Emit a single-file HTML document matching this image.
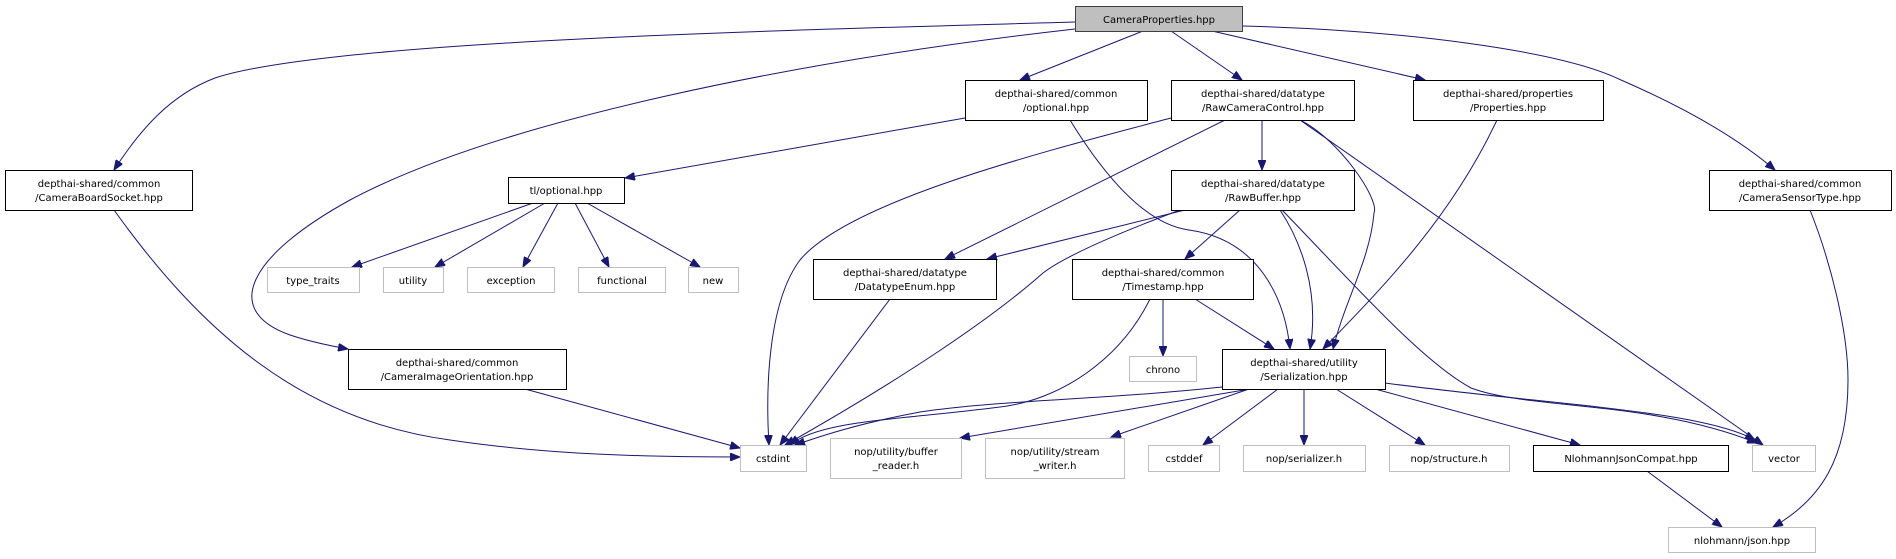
<!DOCTYPE html>
<html><head><meta charset="utf-8"><style>
html,body{margin:0;padding:0;background:#fff;}
svg{display:block;}
text{font-family:"DejaVu Sans","Liberation Sans",sans-serif;font-size:10px;fill:#000;}
.n{fill:#fff;stroke:#000;stroke-width:1;}
.g{fill:#fff;stroke:#bfbfbf;stroke-width:1;}
.e{fill:none;stroke:#191970;stroke-width:1;}
</style></head><body>
<svg width="1896" height="559" viewBox="0 0 1896 559" xmlns="http://www.w3.org/2000/svg">
<defs><marker id="a" markerWidth="11" markerHeight="8" refX="10" refY="4" orient="auto" markerUnits="userSpaceOnUse"><path d="M0,0 L10,4 L0,8 z" fill="#191970" stroke="#191970"/></marker></defs>
<g class="e" marker-end="url(#a)">
<path d="M1075,22 C800,30 330,40 215,78 C170,95 140,130 114,170"/>
<path d="M1075,29 C800,60 500,120 350,200 C250,255 220,310 290,335 C305,340 320,344 348,349"/>
<path d="M1143,31 L1020,80"/>
<path d="M1171,31 L1242,80"/>
<path d="M1212,31 L1425,80"/>
<path d="M1242,26 C1400,30 1560,50 1621,80 C1690,110 1740,140 1775,170"/>
<path d="M965,118 L625,178"/>
<path d="M1070,120 C1110,185 1150,225 1189,230 C1260,240 1285,300 1290,349"/>
<path d="M1171,118 C1050,150 850,200 800,260 C770,300 765,380 769,445"/>
<path d="M1225,120 L945,259"/>
<path d="M1262,120 L1262,170"/>
<path d="M1300,120 C1340,140 1380,200 1374,213 C1370,260 1345,300 1333,349"/>
<path d="M1300,120 L1763,445"/>
<path d="M1497,120 C1450,220 1380,290 1323,349"/>
<path d="M1185,210 L987,259"/>
<path d="M1180,210 C1100,240 1060,260 1043,273 C990,320 900,380 785,445"/>
<path d="M1240,210 L1185,259"/>
<path d="M1280,210 C1300,240 1320,290 1310,349"/>
<path d="M1282,210 C1350,280 1420,360 1471,388 C1530,410 1650,400 1757,443"/>
<path d="M1163,299 L1163,356"/>
<path d="M1195,299 L1274,349"/>
<path d="M1150,299 C1120,360 1060,400 1000,407 C900,420 820,420 790,445"/>
<path d="M890,299 L780,445"/>
<path d="M114,210 C200,330 300,420 450,440 C550,455 650,457 740,457"/>
<path d="M525,389 L740,448"/>
<path d="M533,203 L352,267"/>
<path d="M545,203 L435,267"/>
<path d="M558,203 L523,267"/>
<path d="M575,203 L609,267"/>
<path d="M587,203 L700,267"/>
<path d="M1222,387 C1100,400 1000,400 920,412 C850,425 810,440 795,445"/>
<path d="M1250,389 L960,438"/>
<path d="M1249,389 L1111,437"/>
<path d="M1278,389 L1203,445"/>
<path d="M1304,389 L1304,445"/>
<path d="M1336,389 L1425,445"/>
<path d="M1375,389 L1580,445"/>
<path d="M1385,383 C1550,405 1700,410 1755,440"/>
<path d="M1647,471 L1722,527"/>
<path d="M1810,210 C1830,260 1848,330 1848,380 C1848,460 1820,500 1773,527"/>
</g>
<rect x="1075.5" y="6.5" width="167" height="25" fill="#bfbfbf" stroke="#404040"/>
<text x="1159" y="23" text-anchor="middle">CameraProperties.hpp</text>
<g text-anchor="middle">
<rect class="n" x="5.5" y="170.5" width="187" height="40"/><text x="99" y="187">depthai-shared/common</text><text x="99" y="201">/CameraBoardSocket.hpp</text>
<rect class="n" x="965.5" y="80.5" width="182" height="40"/><text x="1056" y="97">depthai-shared/common</text><text x="1056" y="111">/optional.hpp</text>
<rect class="n" x="1171.5" y="80.5" width="183" height="40"/><text x="1263" y="97">depthai-shared/datatype</text><text x="1263" y="111">/RawCameraControl.hpp</text>
<rect class="n" x="1413.5" y="80.5" width="190" height="40"/><text x="1508" y="97">depthai-shared/properties</text><text x="1508" y="111">/Properties.hpp</text>
<rect class="n" x="1709.5" y="170.5" width="182" height="40"/><text x="1800" y="187">depthai-shared/common</text><text x="1800" y="201">/CameraSensorType.hpp</text>
<rect class="n" x="508.5" y="177.5" width="116" height="26"/><text x="566" y="194">tl/optional.hpp</text>
<rect class="n" x="1171.5" y="170.5" width="183" height="40"/><text x="1263" y="187">depthai-shared/datatype</text><text x="1263" y="201">/RawBuffer.hpp</text>
<rect class="n" x="813.5" y="259.5" width="183" height="40"/><text x="905" y="276">depthai-shared/datatype</text><text x="905" y="290">/DatatypeEnum.hpp</text>
<rect class="n" x="1072.5" y="259.5" width="181" height="40"/><text x="1163" y="276">depthai-shared/common</text><text x="1163" y="290">/Timestamp.hpp</text>
<rect class="n" x="348.5" y="349.5" width="218" height="40"/><text x="457" y="366">depthai-shared/common</text><text x="457" y="380">/CameraImageOrientation.hpp</text>
<rect class="n" x="1222.5" y="349.5" width="163" height="40"/><text x="1304" y="366">depthai-shared/utility</text><text x="1304" y="380">/Serialization.hpp</text>
<rect class="n" x="1533.5" y="445.5" width="195" height="26"/><text x="1631" y="462">NlohmannJsonCompat.hpp</text>
<rect class="g" x="267.5" y="267.5" width="92" height="25"/><text x="313" y="284">type_traits</text>
<rect class="g" x="383.5" y="267.5" width="60" height="25"/><text x="413" y="284">utility</text>
<rect class="g" x="467.5" y="267.5" width="87" height="25"/><text x="511" y="284">exception</text>
<rect class="g" x="578.5" y="267.5" width="87" height="25"/><text x="622" y="284">functional</text>
<rect class="g" x="688.5" y="267.5" width="50" height="25"/><text x="713" y="284">new</text>
<rect class="g" x="1129.5" y="356.5" width="67" height="25"/><text x="1163" y="373">chrono</text>
<rect class="g" x="740.5" y="445.5" width="66" height="26"/><text x="773" y="462">cstdint</text>
<rect class="g" x="830.5" y="438.5" width="131" height="40"/><text x="896" y="455">nop/utility/buffer</text><text x="896" y="469">_reader.h</text>
<rect class="g" x="985.5" y="438.5" width="139" height="40"/><text x="1055" y="455">nop/utility/stream</text><text x="1055" y="469">_writer.h</text>
<rect class="g" x="1148.5" y="445.5" width="71" height="26"/><text x="1184" y="462">cstddef</text>
<rect class="g" x="1243.5" y="445.5" width="122" height="26"/><text x="1304" y="462">nop/serializer.h</text>
<rect class="g" x="1389.5" y="445.5" width="120" height="26"/><text x="1449" y="462">nop/structure.h</text>
<rect class="g" x="1752.5" y="445.5" width="63" height="26"/><text x="1784" y="462">vector</text>
<rect class="g" x="1668.5" y="527.5" width="147" height="25"/><text x="1742" y="544">nlohmann/json.hpp</text>
</g>
</svg>
</body></html>
